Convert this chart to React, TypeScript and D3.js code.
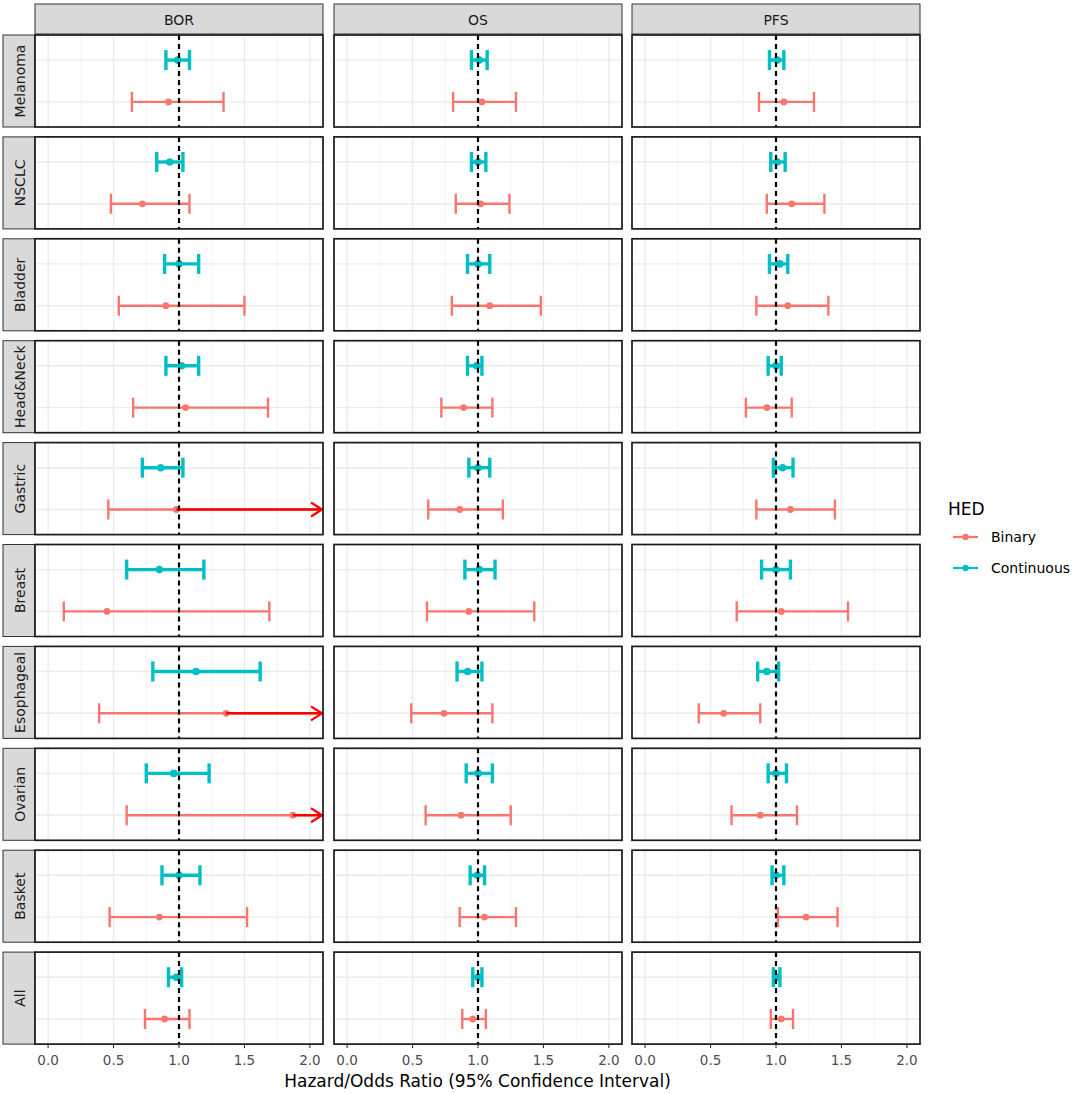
import React from 'react';
import * as d3 from 'd3';

const outcomes = ['BOR', 'OS', 'PFS'];
const cancers = ['Melanoma', 'NSCLC', 'Bladder', 'Head&Neck', 'Gastric', 'Breast', 'Esophageal', 'Ovarian', 'Basket', 'All'];
const groups = ['Binary', 'Continuous'];
const xTicks = [0, 0.5, 1, 1.5, 2];
const xMinor = [0.25, 0.75, 1.25, 1.75];
const tickLabels = ['0.0', '0.5', '1.0', '1.5', '2.0'];

// [estimate, lower, upper]; upper null => beyond the axis (drawn as arrow)
const borBinary = [[0.92, 0.64, 1.34], [0.72, 0.48, 1.08], [0.90, 0.54, 1.50], [1.05, 0.65, 1.68], [0.98, 0.46, null], [0.45, 0.12, 1.69], [1.36, 0.39, null], [1.87, 0.60, null], [0.85, 0.47, 1.52], [0.89, 0.74, 1.08]];
const borContinuous = [[0.99, 0.90, 1.08], [0.93, 0.83, 1.03], [1.00, 0.89, 1.15], [1.02, 0.90, 1.15], [0.86, 0.72, 1.03], [0.85, 0.60, 1.19], [1.13, 0.80, 1.62], [0.96, 0.75, 1.23], [1.00, 0.87, 1.16], [0.98, 0.92, 1.02]];
const osBinary = [[1.03, 0.81, 1.29], [1.02, 0.83, 1.24], [1.09, 0.80, 1.48], [0.89, 0.72, 1.11], [0.86, 0.62, 1.19], [0.93, 0.61, 1.43], [0.74, 0.49, 1.11], [0.87, 0.60, 1.25], [1.05, 0.86, 1.29], [0.96, 0.88, 1.06]];
const osContinuous = [[1.01, 0.95, 1.07], [1.00, 0.95, 1.06], [1.00, 0.92, 1.09], [0.99, 0.92, 1.03], [1.00, 0.93, 1.09], [1.01, 0.90, 1.13], [0.92, 0.84, 1.03], [1.00, 0.91, 1.11], [0.995, 0.94, 1.05], [1.00, 0.96, 1.03]];
const pfsBinary = [[1.06, 0.87, 1.29], [1.12, 0.93, 1.37], [1.09, 0.85, 1.40], [0.93, 0.77, 1.12], [1.11, 0.85, 1.45], [1.04, 0.70, 1.55], [0.60, 0.41, 0.88], [0.88, 0.66, 1.16], [1.23, 1.015, 1.47], [1.04, 0.96, 1.13]];
const pfsContinuous = [[1.01, 0.95, 1.06], [1.01, 0.96, 1.07], [1.03, 0.95, 1.09], [1.00, 0.94, 1.04], [1.05, 0.98, 1.13], [1.00, 0.89, 1.11], [0.93, 0.86, 1.02], [1.00, 0.94, 1.08], [1.00, 0.97, 1.06], [1.00, 0.98, 1.03]];

const dataByOutcome: Record<string, Record<string, (number | null)[][]>> = {
  BOR: { Binary: borBinary, Continuous: borContinuous },
  OS: { Binary: osBinary, Continuous: osContinuous },
  PFS: { Binary: pfsBinary, Continuous: pfsContinuous },
};

const colors: Record<string, string> = { Binary: '#F8766D', Continuous: '#00BFC4' };
const FONT = '"DejaVu Sans", Verdana, sans-serif';

const W = 1080;
const H = 1094;
const colLeft = [35, 334, 632];
const panelW = 288;
const rowTop0 = 35;
const rowPitch = 101.9;
const panelH = 92;

export default function App() {
  const xScales = colLeft.map((l) => d3.scaleLinear().domain([-0.1, 2.1]).range([l, l + panelW]));
  const panels: React.ReactNode[] = [];

  cancers.forEach((cancer, ri) => {
    const top = rowTop0 + ri * rowPitch;
    const yScale = d3.scalePoint<string>().domain(['Continuous', 'Binary']).range([top, top + panelH]).padding(0.6);
    panels.push(
      <g key={`ls-${ri}`}>
        <rect x={3} y={top} width={32} height={panelH} fill="#d9d9d9" stroke="#333" strokeWidth={1} />
        <text x={0} y={0} transform={`translate(25,${top + panelH / 2}) rotate(-90)`} textAnchor="middle" fontSize={14} fill="#1a1a1a">{cancer}</text>
      </g>
    );
    outcomes.forEach((oc, ci) => {
      const x = xScales[ci];
      const [x0, x1] = x.range();
      const items: React.ReactNode[] = [];
      items.push(<rect key="bg" x={x0} y={top} width={panelW} height={panelH} fill="#fff" />);
      xMinor.forEach((t) => items.push(<line key={`mi${t}`} x1={x(t)} x2={x(t)} y1={top} y2={top + panelH} stroke="#f0f0f0" strokeWidth={0.8} />));
      xTicks.forEach((t) => items.push(<line key={`ma${t}`} x1={x(t)} x2={x(t)} y1={top} y2={top + panelH} stroke="#ebebeb" strokeWidth={1.4} />));
      groups.forEach((g) => items.push(<line key={`hy${g}`} x1={x0} x2={x1} y1={yScale(g)} y2={yScale(g)} stroke="#ebebeb" strokeWidth={1.4} />));

      groups.forEach((g) => {
        const vals = dataByOutcome[oc][g][ri];
        const est = vals[0] as number;
        const lo = vals[1] as number;
        const hi = vals[2];
        const y = yScale(g) as number;
        const sw = g === 'Continuous' ? 3.4 : 2.4;
        const cap = 10;
        const col = colors[g];
        const xHi = hi == null ? x1 - 1 : x(hi);
        items.push(<line key={`eb${g}`} x1={x(lo)} x2={xHi} y1={y} y2={y} stroke={col} strokeWidth={sw} />);
        items.push(<line key={`cl${g}`} x1={x(lo)} x2={x(lo)} y1={y - cap} y2={y + cap} stroke={col} strokeWidth={sw} />);
        if (hi != null) {
          items.push(<line key={`ch${g}`} x1={x(hi)} x2={x(hi)} y1={y - cap} y2={y + cap} stroke={col} strokeWidth={sw} />);
        }
        items.push(<circle key={`pt${g}`} cx={x(est)} cy={y} r={g === 'Continuous' ? 3.8 : 3.4} fill={col} />);
        if (hi == null) {
          const tip = x1 - 1;
          items.push(<line key={`ar${g}`} x1={x(est)} x2={tip} y1={y} y2={y} stroke="#FF0000" strokeWidth={2.4} />);
          items.push(<path key={`ah${g}`} d={`M${tip - 11},${y - 7}L${tip},${y}L${tip - 11},${y + 7}`} fill="none" stroke="#FF0000" strokeWidth={2.2} />);
        }
      });
      items.push(<line key="ref" x1={x(1)} x2={x(1)} y1={top} y2={top + panelH} stroke="#000" strokeWidth={2.2} strokeDasharray="5,4" />);
      items.push(<rect key="border" x={x0} y={top} width={panelW} height={panelH} fill="none" stroke="#1a1a1a" strokeWidth={1.7} />);
      panels.push(<g key={`p-${ri}-${ci}`}>{items}</g>);
    });
  });

  const lastBottom = rowTop0 + (cancers.length - 1) * rowPitch + panelH;

  return (
    <svg width={W} height={H} style={{ position: 'absolute', left: 0, top: 0, background: '#fff' }} fontFamily={FONT}>
      <rect x={0} y={0} width={W} height={H} fill="#fff" />
      {outcomes.map((oc, ci) => (
        <g key={`ts-${oc}`}>
          <rect x={colLeft[ci]} y={4} width={panelW} height={30} fill="#d9d9d9" stroke="#333" strokeWidth={1} />
          <text x={colLeft[ci] + panelW / 2} y={25} textAnchor="middle" fontSize={14} fill="#1a1a1a">{oc}</text>
        </g>
      ))}
      {panels}
      {outcomes.map((oc, ci) => {
        const x = xScales[ci];
        return (
          <g key={`ax-${oc}`}>
            {xTicks.map((t, i) => (
              <g key={t}>
                <line x1={x(t)} x2={x(t)} y1={lastBottom} y2={lastBottom + 4} stroke="#333" strokeWidth={1.1} />
                <text x={x(t)} y={1065} textAnchor="middle" fontSize={13.5} fill="#4d4d4d">{tickLabels[i]}</text>
              </g>
            ))}
          </g>
        );
      })}
      <text x={(colLeft[0] + colLeft[2] + panelW) / 2} y={1087} textAnchor="middle" fontSize={17} fill="#000">Hazard/Odds Ratio (95% Confidence Interval)</text>
      <g>
        <text x={948} y={515} fontSize={17} fill="#000">HED</text>
        {groups.map((g, i) => {
          const y = 537 + i * 31;
          return (
            <g key={g}>
              <line x1={953} x2={978} y1={y} y2={y} stroke={colors[g]} strokeWidth={2.2} />
              <circle cx={965.5} cy={y} r={3.2} fill={colors[g]} />
              <text x={991} y={y + 5} fontSize={14} fill="#000">{g}</text>
            </g>
          );
        })}
      </g>
    </svg>
  );
}
